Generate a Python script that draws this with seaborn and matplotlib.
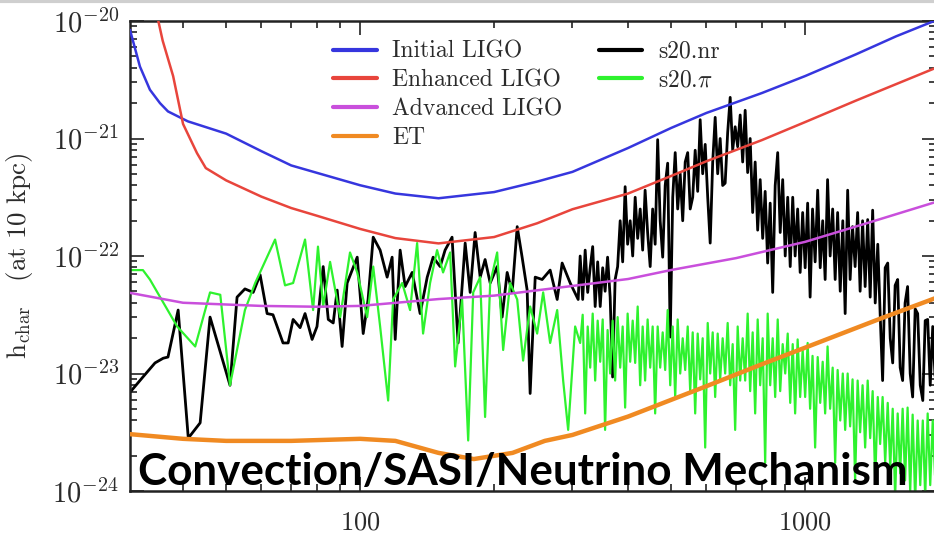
import numpy as np
import pandas as pd
import matplotlib
matplotlib.use("Agg")
import matplotlib.pyplot as plt
from matplotlib.ticker import FuncFormatter, FixedLocator, LogLocator, NullFormatter
from matplotlib.lines import Line2D
import seaborn as sns

# ---------------- data ----------------
# Detector sensitivity curves: frequency [Hz] and h_char
initial_f = [30.4, 32, 33.7, 35.5, 37, 41, 50, 60, 70, 80, 100, 120, 150, 200, 250, 300,
             400, 500, 600, 800, 1000, 1300, 1600, 2000]
initial_h = [8.4e-21, 4.1e-21, 2.6e-21, 2.0e-21, 1.7e-21, 1.4e-21, 1.1e-21, 7.8e-22, 5.9e-22,
             5.1e-22, 4.0e-22, 3.4e-22, 3.1e-22, 3.5e-22, 4.3e-22, 5.2e-22, 8.3e-22, 1.23e-21,
             1.65e-21, 2.44e-21, 3.4e-21, 5.2e-21, 7.4e-21, 1.04e-20]

enhanced_f = [35.2, 36, 38, 40, 43, 45, 50, 60, 70, 80, 100, 120, 150, 200, 250, 300,
              400, 500, 600, 800, 1000, 1300, 1600, 2000]
enhanced_h = [1.0e-20, 6.8e-21, 3.4e-21, 1.33e-21, 7.5e-22, 5.6e-22, 4.4e-22, 3.2e-22, 2.56e-22,
              2.2e-22, 1.7e-22, 1.42e-22, 1.28e-22, 1.45e-22, 1.9e-22, 2.5e-22, 3.4e-22, 4.8e-22,
              6.4e-22, 9.7e-22, 1.38e-21, 2.1e-21, 2.9e-21, 4.1e-21]

advanced_f = [30, 40, 60, 80, 100, 150, 200, 300, 400, 500, 700, 1000, 1400, 2000]
advanced_h = [4.9e-23, 4.0e-23, 3.76e-23, 3.7e-23, 3.76e-23, 4.3e-23, 4.6e-23, 5.56e-23,
              6.37e-23, 7.6e-23, 9.6e-23, 1.32e-22, 1.94e-22, 2.94e-22]

et_f = [30, 40, 50, 70, 100, 120, 150, 180, 220, 260, 300, 400, 600, 800, 1000, 1500, 2000]
et_h = [3.06e-24, 2.78e-24, 2.67e-24, 2.67e-24, 2.78e-24, 2.67e-24, 2.11e-24, 1.87e-24,
        2.11e-24, 2.67e-24, 3.0e-24, 4.3e-24, 7.8e-24, 1.2e-23, 1.66e-23, 3.0e-23, 4.5e-23]

# s20.nr (black): frequency [Hz] and log10(h_char)
nr_f = [30.4, 32.5, 34.6, 36.1, 37.0, 39.0, 41.1, 43.7, 46.0, 51.0, 52.9, 55.1, 57.5, 59.6,
        61.8, 63.7, 67.1, 68.9, 70.7, 73.3, 75.2, 78.0, 80.0, 82.6, 84.8, 87.0, 88.8, 91.1,
        93.5, 98.5, 101.6, 104.2, 107.0, 110.9, 115.0, 118.0, 119.9, 123.0, 126.2, 130.9,
        136.4, 141.5, 145.9, 151.3, 155.2, 160.9, 166.0, 169.5, 172.2, 176.7, 181.3, 186.1,
        190.9, 196.0, 203.2, 208.5, 214.0, 219.6, 225.4, 231.2, 237.3, 241.0, 247.4, 256.5,
        267.3, 277.2, 284.4, 296.5, 309.0,
        312.2, 316.3, 320.4, 324.6, 328.8, 333.1, 337.4, 341.8, 346.3, 350.8, 355.2, 359.8,
        364.6, 369.3, 374.1, 379.0, 384.0, 389.0, 394.0, 399.1, 404.4, 409.7, 415.0, 420.4,
        425.9, 431.4, 436.9, 442.6, 448.5, 454.3, 460.2, 466.2, 472.3, 478.5, 484.7, 491.0,
        497.5, 504.0, 510.5, 517.1, 523.9, 530.7, 537.6, 544.6, 551.7, 558.9, 566.1, 573.5,
        580.9, 588.5, 596.2, 604.0, 611.8, 619.8, 627.8, 636.0, 644.2, 652.6, 661.1, 669.7,
        678.5, 687.3, 696.2, 705.3, 714.5, 723.8, 733.2, 742.7, 752.4, 762.2, 772.1, 782.2,
        792.4, 802.7, 813.1, 823.7, 834.5, 845.4, 856.4, 867.6, 878.9, 890.3, 902.0, 913.7,
        925.6, 937.7, 949.5, 961.9, 974.5, 987.2, 1000, 1013, 1026, 1039, 1053, 1067, 1081,
        1095, 1109, 1123, 1138, 1153, 1168, 1183, 1199, 1215, 1230, 1246, 1262, 1278, 1295,
        1312, 1329, 1346, 1364, 1382, 1400, 1418, 1437, 1456, 1474, 1493, 1513, 1533, 1553,
        1573, 1593, 1614, 1635, 1656, 1677, 1699, 1722, 1744, 1767, 1790, 1814, 1838, 1861,
        1885, 1910, 1935, 1960]
nr_logh = [-23.16, -23.03, -22.91, -22.87, -22.86, -22.46, -23.55, -23.42, -22.52, -23.10,
           -22.35, -22.28, -22.31, -22.16, -22.49, -22.50, -22.74, -22.74, -22.54, -22.61,
           -22.49, -22.71, -22.60, -22.09, -22.54, -22.57, -22.29, -22.77, -22.23, -22.01,
           -22.66, -22.37, -21.84, -21.95, -22.18, -22.01, -22.71, -21.95, -22.26, -22.14,
           -22.49, -22.18, -22.01, -22.09, -21.95, -21.84, -22.74, -22.26, -21.89, -22.31,
           -21.80, -22.18, -22.03, -22.23, -22.09, -22.52, -22.14, -22.31, -21.75, -22.01,
           -22.29, -23.17, -22.18, -22.20, -22.12, -22.37, -22.06, -22.23, -22.37,
           -22.00, -22.37, -21.95, -22.31, -22.10, -21.92, -22.43, -22.05, -22.43, -22.10,
           -22.30, -22.01, -22.35, -23.03, -22.20, -22.09, -21.70, -22.05, -21.41, -21.90,
           -21.70, -22.00, -21.50, -21.85, -21.60, -21.95, -21.44, -21.80, -22.09, -21.60,
           -21.90, -21.01, -21.70, -22.01, -21.40, -21.21, -22.69, -21.50, -21.12, -21.60,
           -21.30, -21.70, -21.20, -21.12, -21.60, -21.50, -21.10, -21.45, -20.84, -21.30,
           -21.05, -21.50, -21.89, -21.20, -20.82, -21.30, -21.00, -21.40, -21.38, -20.95,
           -20.65, -21.10, -20.90, -21.07, -20.80, -21.20, -20.76, -21.29, -21.00, -21.63,
           -21.20, -21.78, -21.35, -21.85, -21.45, -22.06, -21.55, -22.31, -21.40, -21.12,
           -21.80, -21.35, -22.00, -21.50, -22.09, -21.50, -22.00, -21.60, -22.14, -21.63,
           -22.10, -21.55, -22.35, -21.60, -22.05, -21.44, -22.10, -21.70, -22.20, -21.35,
           -22.00, -21.60, -22.20, -21.63, -22.30, -21.70, -22.49, -21.44, -22.20, -21.75,
           -22.09, -21.63, -22.30, -21.70, -22.26, -21.69, -22.35, -21.61, -22.40, -21.90,
           -22.49, -23.06, -22.10, -22.06, -22.70, -22.91, -22.25, -22.20, -22.95, -23.06,
           -22.40, -22.26, -23.00, -23.20, -22.45, -22.49, -23.10, -23.23, -22.55, -22.54,
           -23.10, -22.60, -23.06]

# s20.pi (green): frequency [Hz] and log10(h_char)
pi_f = [30.4, 32.5, 33.7, 38.8, 42.6, 46.0, 48.5, 51.0, 55.1, 58.1, 64.4, 67.8, 70.7, 75.2,
        78.4, 80.4, 82.6, 85.6, 90.2, 94.9, 98.5, 103.7, 107.0, 110.9, 115.6, 118.6, 124.3,
        129.5, 134.3, 138.5, 143.6, 148.9, 153.6, 159.3, 163.5, 169.5, 174.9, 179.5, 186.1,
        190.9, 196.0, 203.2, 209.6, 217.3, 225.4, 232.4, 241.0, 249.9, 257.8, 267.3, 277.2,
        285.9, 293.4, 304.2,
        312.2, 316.3, 320.4, 324.6, 328.8, 333.1, 337.4, 341.8, 346.3, 350.8, 355.2, 359.8,
        364.6, 369.3, 374.1, 379.0, 384.0, 389.0, 394.0, 399.1, 404.4, 409.7, 415.0, 420.4,
        425.9, 431.4, 436.9, 442.6, 448.5, 454.3, 460.2, 466.2, 472.3, 478.5, 484.7, 491.0,
        497.5, 504.0, 510.5, 517.1, 523.9, 530.7, 537.6, 544.6, 551.7, 558.9, 566.1, 573.5,
        580.9, 588.5, 596.2, 604.0, 611.8, 619.8, 627.8, 636.0, 644.2, 652.6, 661.1, 669.7,
        678.5, 687.3, 696.2, 705.3, 714.5, 723.8, 733.2, 742.7, 752.4, 762.2, 772.1, 782.2,
        792.4, 802.7, 813.1, 823.7, 834.5, 845.4, 856.4, 867.6, 878.9, 890.3, 902.0, 913.7,
        925.6, 937.7, 949.5, 961.9, 974.5, 987.2, 1000, 1013, 1026, 1039, 1053, 1067, 1081,
        1095, 1109, 1123, 1138, 1153, 1168, 1183, 1199, 1215, 1230, 1246, 1262, 1278, 1295,
        1312, 1329, 1346, 1364, 1382, 1400, 1418, 1437, 1456, 1474, 1493, 1513, 1533, 1553,
        1573, 1593, 1614, 1635, 1656, 1677, 1699, 1722, 1744, 1767, 1790, 1814, 1838, 1861,
        1885, 1910, 1935, 1960]
pi_logh = [-22.12, -22.12, -22.20, -22.60, -22.77, -22.31, -22.33, -23.10, -22.46, -22.23,
           -21.86, -22.25, -22.23, -21.86, -22.46, -21.92, -22.43, -22.05, -22.52, -21.97,
           -22.14, -22.52, -22.09, -22.60, -23.23, -22.37, -22.23, -22.46, -21.89, -22.66,
           -22.23, -21.95, -22.14, -21.97, -22.94, -22.37, -23.57, -22.31, -22.18, -23.37,
           -22.23, -21.97, -22.80, -22.23, -22.37, -22.89, -22.43, -22.66, -22.31, -22.74,
           -22.46, -23.06, -23.48, -22.60,
           -22.74, -22.50, -23.34, -22.60, -22.95, -22.49, -23.06, -22.55, -22.90, -22.54,
           -23.48, -22.63, -23.00, -22.55, -23.06, -22.52, -22.95, -22.60, -23.29, -22.49,
           -22.90, -22.55, -22.91, -22.43, -23.10, -22.60, -23.06, -22.54, -22.95, -22.60,
           -23.34, -22.60, -22.95, -22.65, -22.97, -22.46, -23.10, -22.60, -23.20, -22.54,
           -23.00, -22.70, -22.97, -22.60, -23.15, -22.65, -23.34, -22.66, -23.05, -22.70,
           -23.63, -22.57, -23.00, -22.65, -23.20, -22.66, -23.05, -22.70, -23.00, -22.57,
           -23.10, -22.75, -23.48, -22.60, -23.06, -22.70, -23.06, -22.49, -23.15, -22.65,
           -23.34, -22.54, -23.10, -22.70, -23.76, -22.49, -23.10, -22.70, -23.20, -22.54,
           -23.15, -22.75, -23.00, -22.66, -23.25, -22.75, -23.34, -22.71, -23.20, -22.80,
           -23.20, -22.74, -23.30, -22.85, -23.63, -22.86, -23.25, -22.90, -23.34, -22.77,
           -23.30, -22.95, -23.76, -22.97, -23.40, -23.00, -23.48, -23.00, -23.45, -23.05,
           -23.91, -23.06, -23.50, -23.10, -23.63, -23.06, -23.55, -23.15, -23.91, -23.20,
           -23.60, -23.20, -23.76, -23.25, -23.80, -23.30, -24.05, -23.34, -23.85, -23.30,
           -23.91, -23.29, -24.00, -23.35, -24.08, -23.40, -23.95, -23.40, -24.05, -23.34,
           -23.95, -23.40, -23.91]

x_major_ticks = [100, 1000]
y_major_ticks = [1e-24, 1e-23, 1e-22, 1e-21, 1e-20]
legend_labels = ["Initial LIGO", "Enhanced LIGO", "Advanced LIGO", "ET",
                 "s20.nr", r"s20.$\pi$"]
annotation = "Convection/SASI/Neutrino Mechanism"

# ---------------- styling ----------------
sns.set_theme(style="ticks")
plt.rcParams["mathtext.fontset"] = "cm"
plt.rcParams["font.family"] = ["DejaVu Serif", "DejaVu Sans"]

fig = plt.figure(figsize=(9.34, 5.40), dpi=100)
W, H = 934.0, 540.0
ax = fig.add_axes([130 / W, 1 - 491 / H, (936 - 130) / W, (491 - 21) / H])

C_BLUE = "#3636de"
C_RED = "#e8453c"
C_MAG = "#c94fdc"
C_ORG = "#f08a22"
C_BLK = "#000000"
C_GRN = "#2ef22e"

sns.lineplot(x=nr_f, y=10 ** np.array(nr_logh), ax=ax, color=C_BLK, lw=2.0,
             sort=False, estimator=None, label="nr", zorder=2)
sns.lineplot(x=pi_f, y=10 ** np.array(pi_logh), ax=ax, color=C_GRN, lw=1.6,
             sort=False, estimator=None, label="pi", zorder=2.1)
sns.lineplot(x=initial_f, y=initial_h, ax=ax, color=C_BLUE, lw=1.8,
             sort=False, estimator=None, label="initial", zorder=3)
sns.lineplot(x=enhanced_f, y=enhanced_h, ax=ax, color=C_RED, lw=1.8,
             sort=False, estimator=None, label="enhanced", zorder=3)
sns.lineplot(x=advanced_f, y=advanced_h, ax=ax, color=C_MAG, lw=1.8,
             sort=False, estimator=None, label="advanced", zorder=3)
sns.lineplot(x=et_f, y=et_h, ax=ax, color=C_ORG, lw=3.2,
             sort=False, estimator=None, label="et", zorder=3)

ax.set_xscale("log")
ax.set_yscale("log")
ax.set_xlim(30.4, 1968)
ax.set_ylim(1e-24, 1e-20)

# ticks
ax.xaxis.set_major_locator(FixedLocator(x_major_ticks))
ax.xaxis.set_major_formatter(FuncFormatter(lambda v, p: r"$%d$" % round(v)))
ax.xaxis.set_minor_locator(LogLocator(base=10, subs=np.arange(2, 10), numticks=20))
ax.xaxis.set_minor_formatter(NullFormatter())
ax.yaxis.set_major_locator(FixedLocator(y_major_ticks))
ax.yaxis.set_major_formatter(FuncFormatter(lambda v, p: r"$10^{%d}$" % round(np.log10(v))))
ax.yaxis.set_minor_locator(LogLocator(base=10, subs=np.arange(2, 10), numticks=20))
ax.yaxis.set_minor_formatter(NullFormatter())

ax.tick_params(which="both", direction="in", top=True, right=True, color="#222222", width=1.2)
ax.tick_params(which="major", length=10)
ax.tick_params(which="minor", length=5)
ax.tick_params(axis="x", which="major", labelsize=19, pad=13, labelcolor="#2b2b2b")
ax.tick_params(axis="y", which="major", labelsize=20.5, pad=8, labelcolor="#2b2b2b")
for s in ax.spines.values():
    s.set_linewidth(1.8)
    s.set_color("#222222")

ax.set_ylabel(r"$\mathrm{h_{char}}\quad\mathrm{(at\ 10\ kpc)}$", fontsize=19.5, color="#2b2b2b")
ax.yaxis.set_label_coords(-0.118, 0.5)
ax.set_xlabel("")

# legend
handles, labels = ax.get_legend_handles_labels()
hmap = dict(zip(labels, handles))
blank = Line2D([], [], color="none")
leg_handles = [hmap["initial"], hmap["enhanced"], hmap["advanced"], hmap["et"],
               hmap["nr"], hmap["pi"], blank, blank]
leg = ax.legend(leg_handles, legend_labels + ["", ""], ncol=2, loc="upper left",
                bbox_to_anchor=(0.240, 0.978), frameon=False,
                prop={"family": "cmr10", "size": 17},
                handlelength=1.85, handletextpad=0.65, columnspacing=1.55,
                labelspacing=0.28, borderaxespad=0)
for t in leg.get_texts():
    t.set_color("#2b2b2b")
for lh in leg.get_lines():
    lh.set_linewidth(3.0)

# big annotation
ax.text(0.010, 0.012, annotation, transform=ax.transAxes, ha="left", va="baseline",
        fontsize=31.7, fontweight="bold", family=["Lato", "DejaVu Sans"], color="black",
        zorder=5)

# thin grey band along the top edge of the picture
fig.add_artist(Line2D([0, 1], [0.998, 0.998], transform=fig.transFigure,
                      color="#cfcfcf", lw=3))

fig.savefig("out.png", dpi=100)
